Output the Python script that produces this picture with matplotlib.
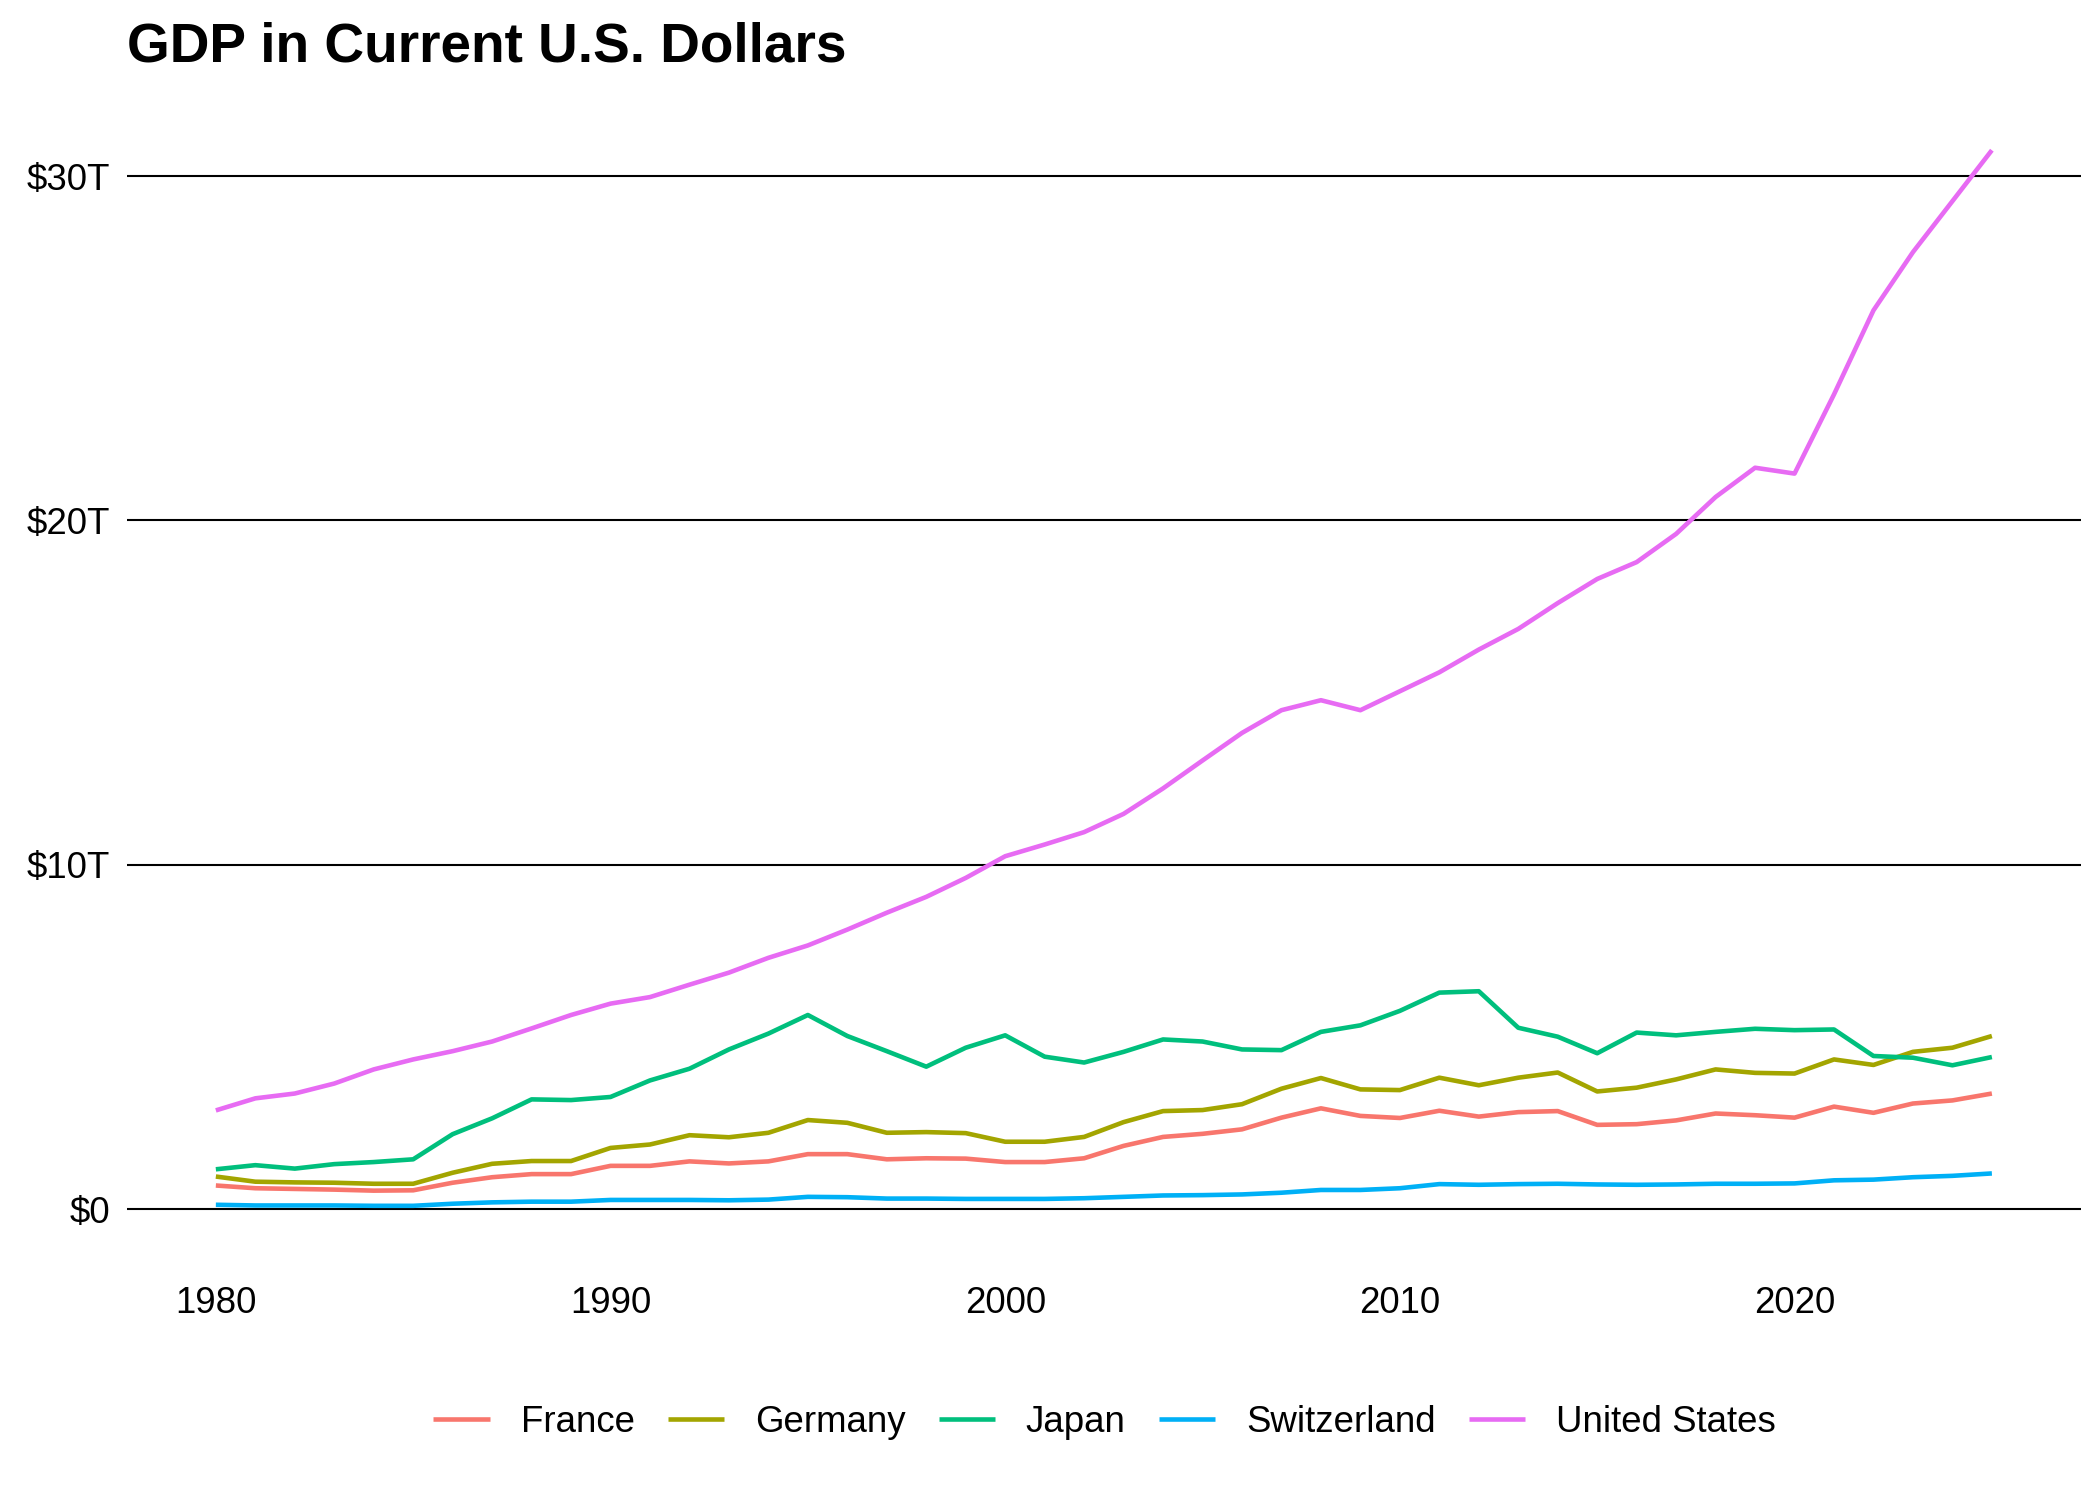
import numpy as np
import matplotlib
matplotlib.use("Agg")
import matplotlib.pyplot as plt

plt.rcParams['font.family'] = ['Liberation Sans', 'DejaVu Sans']

years = list(range(1980, 2026))

# GDP, trillions of current US dollars
france = [0.69, 0.61, 0.59, 0.57, 0.54, 0.55, 0.77, 0.93, 1.02, 1.02,
          1.26, 1.26, 1.39, 1.33, 1.39, 1.60, 1.60, 1.45, 1.48, 1.47,
          1.37, 1.37, 1.48, 1.84, 2.10, 2.19, 2.32, 2.66, 2.93, 2.71,
          2.65, 2.86, 2.69, 2.82, 2.85, 2.45, 2.47, 2.58, 2.78, 2.73,
          2.66, 2.98, 2.80, 3.07, 3.16, 3.36]
germany = [0.95, 0.80, 0.78, 0.77, 0.74, 0.74, 1.06, 1.32, 1.40, 1.40,
           1.78, 1.88, 2.15, 2.09, 2.22, 2.59, 2.51, 2.22, 2.24, 2.21,
           1.96, 1.96, 2.10, 2.53, 2.85, 2.88, 3.05, 3.50, 3.81, 3.48,
           3.46, 3.82, 3.60, 3.82, 3.97, 3.42, 3.53, 3.77, 4.06, 3.96,
           3.94, 4.35, 4.19, 4.57, 4.69, 5.03]
japan = [1.16, 1.28, 1.18, 1.31, 1.37, 1.45, 2.18, 2.64, 3.19, 3.17,
         3.26, 3.74, 4.08, 4.64, 5.10, 5.64, 5.03, 4.59, 4.14, 4.69,
         5.05, 4.43, 4.26, 4.57, 4.93, 4.87, 4.64, 4.62, 5.15, 5.34,
         5.76, 6.29, 6.33, 5.27, 5.01, 4.53, 5.13, 5.05, 5.15, 5.24,
         5.20, 5.22, 4.45, 4.40, 4.18, 4.42]
switzerland = [0.13, 0.11, 0.11, 0.11, 0.10, 0.10, 0.16, 0.20, 0.22, 0.22,
               0.27, 0.27, 0.27, 0.26, 0.28, 0.36, 0.35, 0.31, 0.31, 0.30,
               0.30, 0.30, 0.32, 0.36, 0.40, 0.41, 0.43, 0.48, 0.56, 0.56,
               0.61, 0.73, 0.71, 0.73, 0.74, 0.72, 0.71, 0.72, 0.74, 0.74,
               0.75, 0.84, 0.86, 0.93, 0.97, 1.04]
united_states = [2.87, 3.22, 3.36, 3.65, 4.06, 4.35, 4.59, 4.87, 5.25, 5.64,
                 5.97, 6.16, 6.52, 6.87, 7.30, 7.66, 8.12, 8.61, 9.07, 9.62,
                 10.25, 10.59, 10.95, 11.48, 12.22, 13.03, 13.83, 14.49, 14.78, 14.49,
                 15.04, 15.59, 16.25, 16.85, 17.60, 18.30, 18.79, 19.61, 20.68, 21.53,
                 21.36, 23.66, 26.10, 27.79, 29.27, 30.75]

countries = ['France', 'Germany', 'Japan', 'Switzerland', 'United States']
series = [france, germany, japan, switzerland, united_states]
colors = ['#F8766D', '#A3A500', '#00BF7D', '#00B0F6', '#E76BF3']

y_ticks = [0, 10, 20, 30]
y_labels = ['$0', '$10T', '$20T', '$30T']
x_ticks = [1980, 1990, 2000, 2010, 2020]

fig = plt.figure(figsize=(7, 5), dpi=300)
ax = fig.add_axes([0.0605, 0.161, 0.9303, 0.774])

for name, vals, c in zip(countries, series, colors):
    ax.plot(years, vals, color=c, linewidth=1.1, label=name, solid_capstyle='butt')

ax.set_xlim(1977.75, 2027.25)
ax.set_ylim(-1.43, 32.28)
ax.set_yticks(y_ticks)
ax.set_yticklabels(y_labels)
ax.set_xticks(x_ticks)
ax.tick_params(length=0, labelsize=8.8, labelcolor='black', pad=4)
ax.tick_params(axis='x', pad=6.5)
ax.grid(axis='y', color='black', linewidth=0.5)
ax.set_axisbelow(True)
for s in ax.spines.values():
    s.set_visible(False)

fig.text(0.0605, 0.986, 'GDP in Current U.S. Dollars', fontsize=13.2,
         fontweight='bold', ha='left', va='top')

fig.legend(loc='center', bbox_to_anchor=(0.526, 0.052), ncol=5, frameon=False,
           fontsize=8.8, handlelength=1.53, columnspacing=0.9, handletextpad=0.85)

fig.savefig('out.png', dpi=300)
